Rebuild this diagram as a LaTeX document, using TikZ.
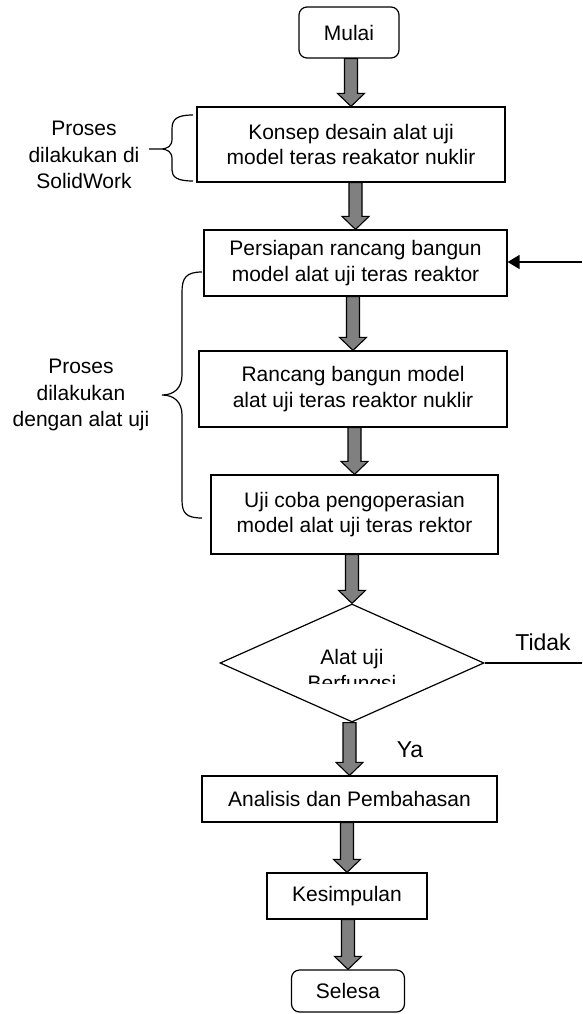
\documentclass[tikz,border=0pt]{standalone}
\usepackage{fontspec}
\setmainfont{Liberation Sans}
\usetikzlibrary{calc,shapes.geometric,arrows.meta}
\newcommand{\blockarrow}[2]{\path[blockarr] let \p1=(#1.south), \p2=(#2.north) in
  ({\x2-6.5pt},\y1) -- ({\x2+6.5pt},\y1) -- ({\x2+6.5pt},{\y2+13pt}) -- ({\x2+13.5pt},{\y2+13pt})
  -- (\x2,\y2) -- ({\x2-13.5pt},{\y2+13pt}) -- ({\x2-6.5pt},{\y2+13pt}) -- cycle;}
\begin{document}
\begin{tikzpicture}[x=1pt,y=-1pt,
  box/.style={draw, line width=1.2pt, align=center, inner sep=0pt, font=\fontsize{21}{25.5}\selectfont},
  term/.style={box, rounded corners=8pt},
  lbl/.style={align=center, font=\fontsize{21}{26.5}\selectfont, inner sep=0pt},
  biglbl/.style={lbl, font=\fontsize{23}{27}\selectfont},
  blockarr/.style={draw=black, fill=gray, line width=1.1pt, line join=miter},
  bracepath/.style={draw, line width=1.2pt},
  conn/.style={draw, line width=1.4pt}]
\useasboundingbox (0,0) rectangle (582,1014);

\node[term, minimum width=100pt, minimum height=51pt] (mulai) at (349,32.5) {Mulai};
\node[box, minimum width=308pt, minimum height=75pt] (konsep) at (351,144.5) {Konsep desain alat uji\\model teras reakator nuklir};
\node[box, minimum width=303pt, minimum height=66pt] (persiapan) at (355.5,263) {Persiapan rancang bangun\\model alat uji teras reaktor};
\node[box, minimum width=308pt, minimum height=76pt] (rancang) at (353,389) {Rancang bangun model\\alat uji teras reaktor nuklir};
\node[box, minimum width=287pt, minimum height=79pt] (uji) at (354.5,514.5) {Uji coba pengoperasian\\model alat uji teras rektor};
\node[diamond, draw, line width=1.2pt, minimum width=264pt, minimum height=118pt, inner sep=0pt] (dia) at (352,663) {};
\node[lbl] (alat) at (352,659) {Alat uji};
\begin{scope}
  \clip (200,600) rectangle (500,683);
  \node[lbl] (berf) at (352,685) {Berfungsi};
\end{scope}
\node[box, minimum width=295pt, minimum height=46pt] (analisis) at (349.5,799) {Analisis dan Pembahasan};
\node[box, minimum width=160pt, minimum height=46pt] (kesimpulan) at (347,896) {Kesimpulan};
\node[term, minimum width=113pt, minimum height=42pt] (selesa) at (348,991) {Selesa};

\blockarrow{mulai}{konsep}
\blockarrow{konsep}{persiapan}
\blockarrow{persiapan}{rancang}
\blockarrow{rancang}{uji}
\blockarrow{uji}{dia}
\blockarrow{dia}{analisis}
\blockarrow{analisis}{kesimpulan}
\blockarrow{kesimpulan}{selesa}

\coordinate (tdR) at (582,663);
\coordinate (fbR) at (582,262);
\draw[conn] (dia.east) -- (tdR);
\draw[conn, -{Triangle[length=12pt,width=14pt]}] (fbR) -- (persiapan.east |- fbR);
\node[biglbl] (tidak) at (543,642) {Tidak};
\node[biglbl] (ya) at (410,750) {Ya};

% braces
\path[bracepath] (193,115) .. controls (177,115) and (172,119) .. (172,129) -- (172,139)
  .. controls (172,146) and (168,149) .. (160,149) -- (149,149)
  -- (160,149) .. controls (168,149) and (172,152) .. (172,159) -- (172,170)
  .. controls (172,177) and (177,181) .. (193,181);
\node[lbl] (lbl1) at (84,155) {Proses\\dilakukan di\\SolidWork};

\path[bracepath] (202,272) .. controls (186,272) and (182,278) .. (182,292) -- (182,375)
  .. controls (182,388) and (174,395) .. (162,395)
  .. controls (174,395) and (182,402) .. (182,415) -- (182,500)
  .. controls (182,513) and (186,518) .. (202,518);
\node[lbl] (lbl2) at (81,395) {Proses\\dilakukan\\dengan alat uji};
\end{tikzpicture}
\end{document}
